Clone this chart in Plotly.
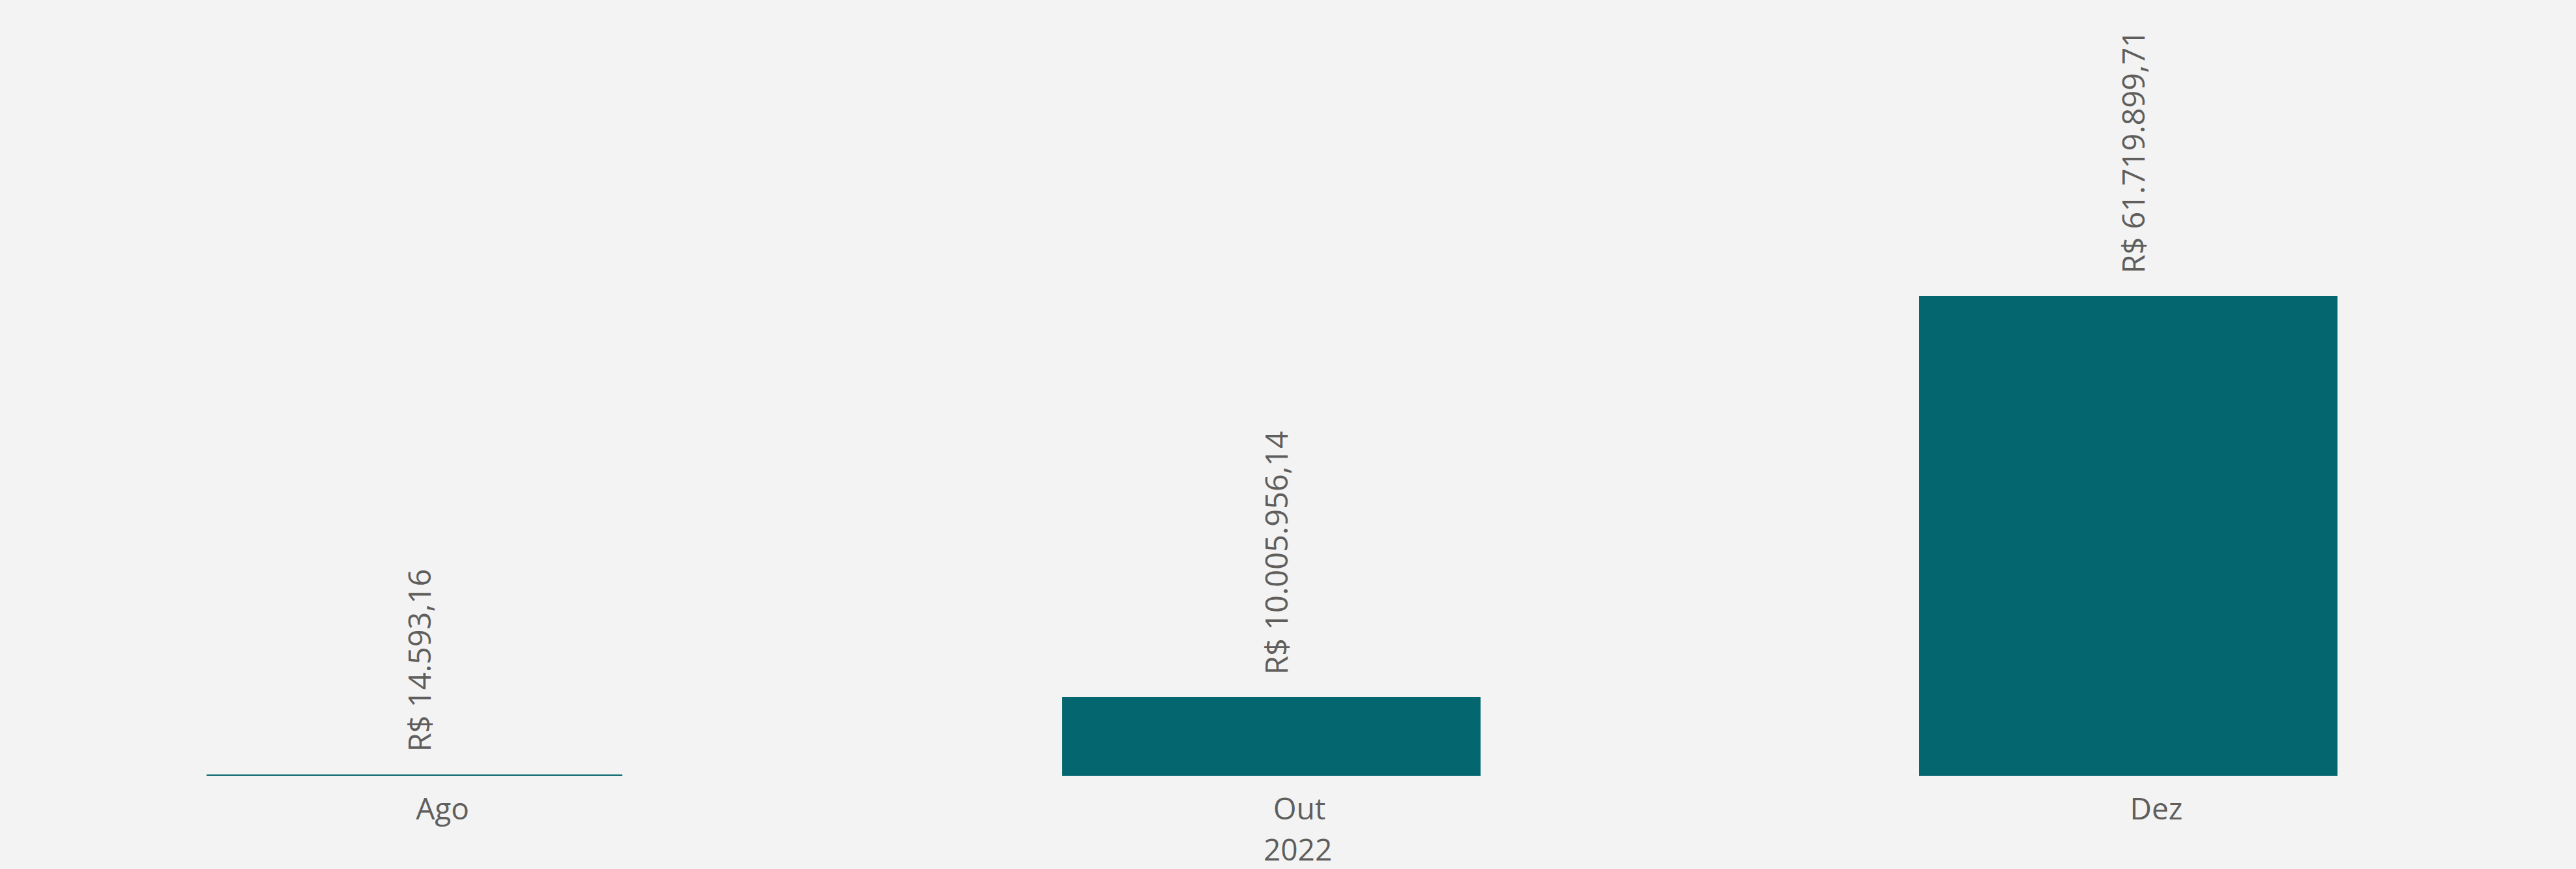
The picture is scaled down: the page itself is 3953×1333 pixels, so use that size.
import plotly.graph_objects as go

categories = ["Ago", "Out", "Dez"]
values = [14593.16, 10005956.14, 61719899.71]
year_label = "2022"

BAR = "#04666E"
TXT = "#605E5C"
BG = "#F3F3F3"
FONT = "Segoe UI, Open Sans, sans-serif"


def brl(v):
    s = f"{v:,.2f}"
    s = s.replace(",", "X").replace(".", ",").replace("X", ".")
    return "R$ " + s


fig = go.Figure()
fig.add_trace(go.Bar(
    x=categories, y=values,
    marker=dict(color=BAR, line=dict(color=BAR, width=4)),
    width=0.485,
    hoverinfo="skip",
))

for c, v in zip(categories, values):
    fig.add_annotation(
        x=c, y=v, text=brl(v), textangle=-90, showarrow=False,
        xanchor="center", yanchor="bottom", yshift=34, xshift=7,
        font=dict(family=FONT, size=47, color=TXT),
    )

fig.add_annotation(
    text=year_label, xref="paper", yref="paper", x=0.5037, y=0,
    xanchor="center", yanchor="middle", yshift=-112, showarrow=False,
    borderpad=0,
    font=dict(family=FONT, size=46, color=TXT),
)

W, H = 3953, 1333
fig.update_layout(
    width=W, height=H,
    paper_bgcolor=BG, plot_bgcolor=BG,
    margin=dict(l=0, r=0, t=0, b=143),
    showlegend=False,
    bargap=0,
    xaxis=dict(
        range=[-636 / 1315, (W - 636) / 1315],
        showgrid=False, zeroline=False, showline=False, ticks="",
        ticklabelstandoff=20, ticklabelshift=43,
        tickfont=dict(family=FONT, size=46, color=TXT),
    ),
    yaxis=dict(
        range=[0, 1.0e8], visible=False, showgrid=False, zeroline=False,
    ),
)

fig.write_html(
    "out.html",
    config={"displayModeBar": False},
    post_script="document.body.style.margin='0';document.body.style.background='#F3F3F3';",
)
